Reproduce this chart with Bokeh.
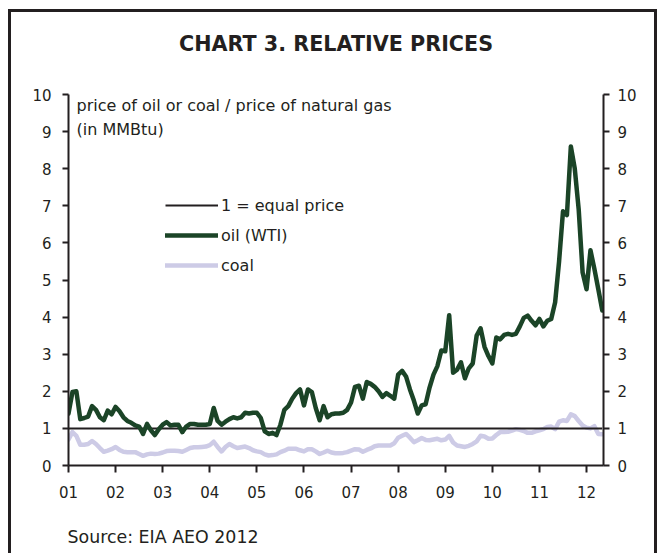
import pandas as pd
from bokeh.plotting import figure
from bokeh.models import (LinearAxis, FixedTicker, Label, Legend, LegendItem,
                          Range1d, ColumnDataSource, Title)
from bokeh.embed import file_html
from bokeh.resources import INLINE

# ---------------- data ----------------
title_text = "CHART 3. RELATIVE PRICES"
axis_note_1 = "price of oil or coal / price of natural gas"
axis_note_2 = "(in MMBtu)"
source_text = "Source: EIA AEO 2012"
series_names = ["1 = equal price", "oil (WTI)", "coal"]

year_ticks = [2001, 2002, 2003, 2004, 2005, 2006, 2007, 2008, 2009, 2010, 2011, 2012]
year_labels = ["01", "02", "03", "04", "05", "06", "07", "08", "09", "10", "11", "12"]
y_ticks = [0, 1, 2, 3, 4, 5, 6, 7, 8, 9, 10]
parity_level = 1.0

# monthly ratios, Jan 2001 .. May 2012
oil = [1.40, 1.98, 2.00, 1.25, 1.28, 1.32, 1.60, 1.50, 1.30, 1.22, 1.48, 1.38,   # 2001
       1.58, 1.46, 1.30, 1.20, 1.15, 1.08, 1.05, 0.85, 1.12, 0.95, 0.82, 0.98,   # 2002
       1.10, 1.17, 1.08, 1.10, 1.10, 0.90, 1.05, 1.12, 1.12, 1.10, 1.10, 1.10,   # 2003
       1.12, 1.55, 1.20, 1.10, 1.18, 1.25, 1.30, 1.27, 1.30, 1.42, 1.40, 1.42,   # 2004
       1.42, 1.28, 0.92, 0.85, 0.88, 0.82, 1.10, 1.50, 1.60, 1.80, 1.95, 2.05,   # 2005
       1.62, 2.05, 1.98, 1.55, 1.22, 1.60, 1.30, 1.38, 1.40, 1.40, 1.42, 1.50,   # 2006
       1.70, 2.12, 2.15, 1.80, 2.25, 2.20, 2.12, 2.00, 1.85, 1.95, 1.88, 1.80,   # 2007
       2.45, 2.55, 2.40, 2.05, 1.75, 1.40, 1.62, 1.65, 2.10, 2.45, 2.68, 3.10,   # 2008
       3.08, 4.05, 2.50, 2.58, 2.78, 2.35, 2.62, 2.75, 3.50, 3.70, 3.20, 2.95,   # 2009
       2.75, 3.45, 3.40, 3.52, 3.55, 3.52, 3.55, 3.75, 3.98, 4.04, 3.90, 3.78,   # 2010
       3.95, 3.75, 3.90, 3.95, 4.40, 5.50, 6.85, 6.75, 8.60, 8.00, 6.90, 5.20,   # 2011
       4.75, 5.80, 5.30, 4.75, 4.18]                                             # 2012

coal = [0.70, 0.90, 0.80, 0.56, 0.56, 0.58, 0.66, 0.58, 0.47, 0.37, 0.40, 0.44,  # 2001
        0.50, 0.42, 0.37, 0.36, 0.36, 0.36, 0.31, 0.26, 0.30, 0.32, 0.31, 0.32,  # 2002
        0.35, 0.39, 0.40, 0.40, 0.39, 0.37, 0.42, 0.47, 0.49, 0.49, 0.50, 0.51,  # 2003
        0.55, 0.64, 0.50, 0.38, 0.50, 0.58, 0.52, 0.47, 0.49, 0.51, 0.47, 0.41,  # 2004
        0.38, 0.36, 0.30, 0.27, 0.28, 0.30, 0.36, 0.40, 0.45, 0.45, 0.45, 0.41,  # 2005
        0.38, 0.44, 0.44, 0.38, 0.31, 0.35, 0.40, 0.35, 0.33, 0.33, 0.34, 0.36,  # 2006
        0.40, 0.44, 0.43, 0.37, 0.42, 0.46, 0.52, 0.54, 0.54, 0.54, 0.54, 0.60,  # 2007
        0.75, 0.80, 0.85, 0.75, 0.63, 0.68, 0.74, 0.69, 0.68, 0.70, 0.72, 0.68,  # 2008
        0.70, 0.80, 0.62, 0.54, 0.52, 0.50, 0.53, 0.58, 0.65, 0.80, 0.78, 0.72,  # 2009
        0.73, 0.82, 0.90, 0.90, 0.91, 0.94, 0.98, 0.96, 0.93, 0.88, 0.88, 0.92,  # 2010
        0.95, 0.98, 1.04, 1.05, 0.98, 1.18, 1.22, 1.20, 1.38, 1.33, 1.20, 1.08,  # 2011
        1.02, 1.00, 1.06, 0.85, 0.84]                                            # 2012

months = pd.date_range("2001-01-01", periods=len(oil), freq="MS")
t = list(months.year + (months.month - 1) / 12.0)

src = ColumnDataSource(dict(t=t, oil=oil, coal=coal))

# ---------------- styling / geometry ----------------
FONT = "DejaVu Sans"
INK = "#231f20"
OIL_C = "#1b4427"
COAL_C = "#cdcbe6"

X0, X1 = 2001.0, 2012.36
Y0, Y1 = 0, 10
FL, FR, FT, FB = 68, 603, 94, 465   # frame edges on the page (px)


def dx(px):
    return X0 + (px - FL) / (FR - FL) * (X1 - X0)


def dy(py):
    return Y0 + (FB - py) / (FB - FT) * (Y1 - Y0)


p = figure(width=649, height=544, output_backend="svg", toolbar_location=None,
           x_range=Range1d(X0, X1), y_range=Range1d(Y0, Y1),
           min_border_left=57, min_border_right=57, min_border_top=82,
           min_border_bottom=91,
           styles={"margin-left": "8px", "margin-top": "9px",
                   "border-left": "3px solid #231f20",
                   "border-top": "3px solid #231f20",
                   "border-right": "3px solid #231f20"})
p.outline_line_color = None
p.xgrid.visible = False
p.ygrid.visible = False
p.background_fill_color = "white"
p.border_fill_color = "white"

# title (an empty second line keeps the gap above the frame)
p.title.text = title_text + "\n"
p.title.align = "center"
p.title.standoff = 29
p.title.text_font = FONT
p.title.text_font_style = "bold"
p.title.text_font_size = "20.7px"
p.title.text_color = INK

# lines
r_coal = p.line("t", "coal", source=src, line_color=COAL_C, line_width=4.5,
                line_join="round", line_cap="round")
r_eq = p.line(x=[t[0], t[-1]], y=[parity_level, parity_level],
              line_color=INK, line_width=2)
r_oil = p.line("t", "oil", source=src, line_color=OIL_C, line_width=4.5,
               line_join="round", line_cap="round")

# axes
right_axis = LinearAxis()
p.add_layout(right_axis, "right")

for ax in [p.yaxis[0], right_axis]:
    ax.ticker = FixedTicker(ticks=y_ticks)
for ax in [p.xaxis[0], p.yaxis[0], right_axis]:
    ax.axis_line_width = 2
    ax.axis_line_color = INK
    ax.major_tick_line_width = 2
    ax.major_tick_line_color = INK
    ax.major_tick_in = 0
    ax.major_tick_out = 6
    ax.minor_tick_line_color = None
    ax.major_label_text_font = FONT
    ax.major_label_text_font_size = "15px"
    ax.major_label_text_color = INK
p.yaxis[0].major_label_standoff = 11
right_axis.major_label_standoff = 8
p.xaxis[0].ticker = FixedTicker(ticks=year_ticks)
p.xaxis[0].major_label_overrides = {k: v for k, v in zip(year_ticks, year_labels)}
p.xaxis[0].major_tick_out = 7
p.xaxis[0].major_label_standoff = 13

# source line under the x axis (an empty first line keeps the gap)
p.add_layout(Title(text="\n" + source_text, align="left", standoff=8, offset=-1,
                   text_font=FONT, text_font_style="normal",
                   text_font_size="17.4px", text_color=INK), "below")

# notes inside the frame
p.add_layout(Label(x=dx(76), y=dy(105), text=axis_note_1, text_align="left",
                   text_baseline="alphabetic", text_font=FONT,
                   text_font_size="16px", text_color=INK))
p.add_layout(Label(x=dx(76), y=dy(129), text=axis_note_2, text_align="left",
                   text_baseline="alphabetic", text_font=FONT,
                   text_font_size="16px", text_color=INK))

legend = Legend(items=[LegendItem(label=series_names[0], renderers=[r_eq]),
                       LegendItem(label=series_names[1], renderers=[r_oil]),
                       LegendItem(label=series_names[2], renderers=[r_coal])],
                location=(97, 190), orientation="vertical",
                glyph_width=53, glyph_height=20, label_height=20,
                label_standoff=3, spacing=10, padding=0, margin=0,
                border_line_color=None, background_fill_alpha=0,
                label_text_font=FONT, label_text_font_size="16px",
                label_text_color=INK)
p.add_layout(legend)

open("out.html", "w").write(file_html(p, INLINE))
